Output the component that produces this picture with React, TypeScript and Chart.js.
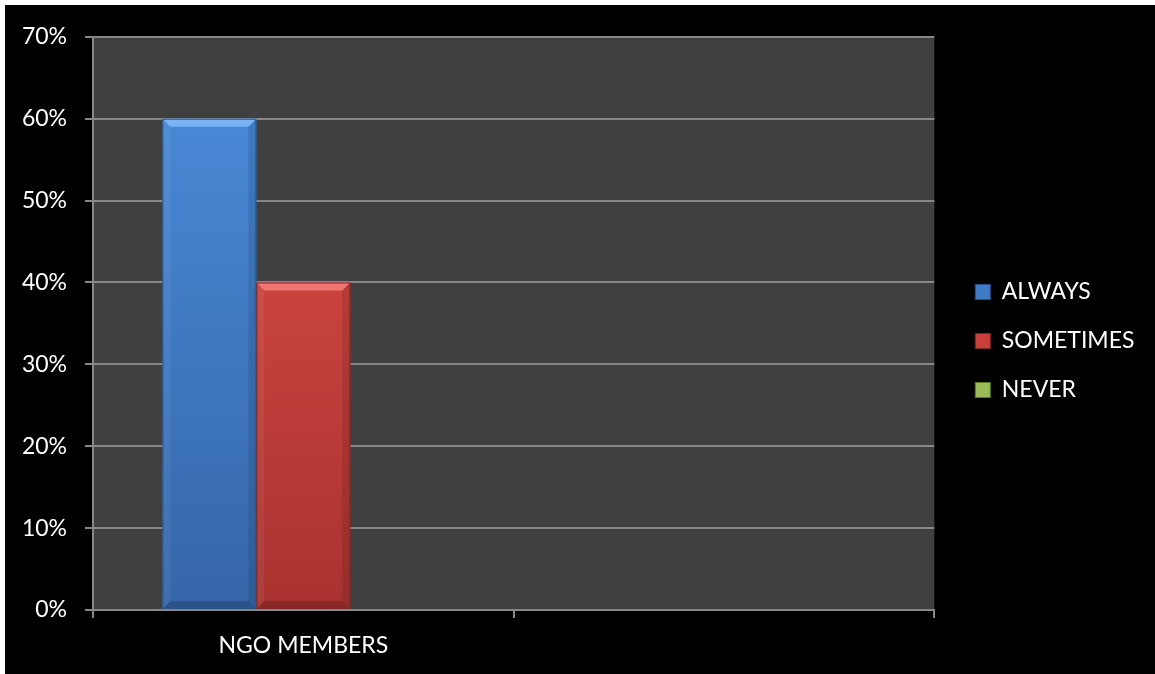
import React, { useEffect, useRef } from "react";
import { Chart, registerables } from "chart.js";

Chart.register(...registerables);

// ---- data ----
const categories: string[] = ["NGO MEMBERS", ""];
const seriesNames: string[] = ["ALWAYS", "SOMETIMES", "NEVER"];
const alwaysValues: (number | null)[] = [60, null];
const sometimesValues: (number | null)[] = [40, null];
const neverValues: (number | null)[] = [0, null];
const yMax = 70;
const yStep = 10;

// ---- styles ----
const seriesTop = ["#4b8ddc", "#e2504b", "#a9c95f"];
const seriesBottom = ["#3566a8", "#a8322f", "#7a9a3c"];
const seriesSolid = ["#4079c4", "#c9403b", "#9bbb59"];
const seriesEdge = ["#2a5286", "#7e2724", "#5d7a2a"];
const seriesHighlight = ["rgba(140,195,255,0.75)", "rgba(255,140,135,0.7)", "rgba(200,230,140,0.7)"];
const FONT = "Lato, 'Open Sans', 'DejaVu Sans', sans-serif";
const FONT_SIZE = 23;
const GRID = "#878787";
const LEGEND_PAD = 26;
const LEGEND_BOX = 15;
const PAD_TOP = 29;

const plotBg = {
  id: "plotBg",
  beforeDraw(chart: any) {
    const { ctx, chartArea } = chart;
    if (!chartArea) return;
    ctx.save();
    ctx.fillStyle = "#404040";
    ctx.fillRect(chartArea.left, chartArea.top, chartArea.right - chartArea.left, chartArea.bottom - chartArea.top);
    ctx.restore();
  },
};

// let the legend use the full canvas height for centring, like the original
const legendSpan = {
  id: "legendSpan",
  afterLayout(chart: any) {
    if (chart.legend) {
      chart.legend.top = 3;
      chart.legend.bottom = chart.height;
      chart.legend.height = chart.legend.bottom - chart.legend.top;
    }
  },
};

const bevel = {
  id: "bevel",
  afterDatasetsDraw(chart: any) {
    const { ctx } = chart;
    chart.data.datasets.forEach((ds: any, i: number) => {
      const meta = chart.getDatasetMeta(i);
      meta.data.forEach((el: any, j: number) => {
        const v = ds.data[j];
        if (v === null || v === undefined || v <= 0) return;
        const { x, y, base, width } = el.getProps(["x", "y", "base", "width"], true);
        const l = x - width / 2;
        const r = x + width / 2;
        const b = 8;
        ctx.save();
        ctx.fillStyle = seriesHighlight[i];
        ctx.beginPath();
        ctx.moveTo(l, y);
        ctx.lineTo(r, y);
        ctx.lineTo(r - b, y + b);
        ctx.lineTo(l + b, y + b);
        ctx.closePath();
        ctx.fill();
        ctx.fillStyle = "rgba(0,0,0,0.18)";
        ctx.beginPath();
        ctx.moveTo(l, base);
        ctx.lineTo(r, base);
        ctx.lineTo(r - b, base - b);
        ctx.lineTo(l + b, base - b);
        ctx.closePath();
        ctx.fill();
        ctx.fillStyle = "rgba(0,0,0,0.10)";
        ctx.beginPath();
        ctx.moveTo(r, y);
        ctx.lineTo(r, base);
        ctx.lineTo(r - b, base - b);
        ctx.lineTo(r - b, y + b);
        ctx.closePath();
        ctx.fill();
        ctx.fillStyle = "rgba(255,255,255,0.06)";
        ctx.beginPath();
        ctx.moveTo(l, y);
        ctx.lineTo(l, base);
        ctx.lineTo(l + b, base - b);
        ctx.lineTo(l + b, y + b);
        ctx.closePath();
        ctx.fill();
        ctx.strokeStyle = seriesEdge[i];
        ctx.lineWidth = 1;
        ctx.strokeRect(l + 0.5, y + 0.5, width - 1, base - y - 1);
        ctx.restore();
      });
    });
  },
};

function gradientFor(i: number) {
  return (c: any) => {
    const chart = c.chart;
    const area = chart.chartArea;
    if (!area) return seriesSolid[i];
    const g = chart.ctx.createLinearGradient(0, area.top, 0, area.bottom);
    g.addColorStop(0, seriesTop[i]);
    g.addColorStop(1, seriesBottom[i]);
    return g;
  };
}

export default function App() {
  const ref = useRef<HTMLCanvasElement | null>(null);

  useEffect(() => {
    if (!ref.current) return;
    const values = [alwaysValues, sometimesValues, neverValues];

    // measure the widest legend label to place the legend like the original
    const mctx = ref.current.getContext("2d") as CanvasRenderingContext2D;
    mctx.font = `${FONT_SIZE}px ${FONT}`;
    const textW = Math.max(...seriesNames.map((n) => mctx.measureText(n).width));
    const legendW = LEGEND_PAD + LEGEND_BOX + FONT_SIZE / 2 + textW + 10;
    const legendLeft = 964 - LEGEND_PAD;
    const padRight = Math.max(0, 1150 - legendLeft - legendW);

    const chart = new Chart(ref.current, {
      type: "bar",
      data: {
        labels: categories,
        datasets: seriesNames.map((name, i) => ({
          label: name,
          data: values[i],
          backgroundColor: gradientFor(i),
          borderWidth: 0,
          categoryPercentage: 0.67,
          barPercentage: 1,
        })),
      },
      options: {
        responsive: false,
        animation: false,
        layout: { padding: { top: PAD_TOP, bottom: 0, left: 0, right: padRight } },
        plugins: {
          tooltip: { enabled: false },
          legend: {
            position: "right",
            align: "center",
            labels: {
              color: "#ffffff",
              font: { family: FONT, size: FONT_SIZE },
              boxWidth: LEGEND_BOX,
              boxHeight: LEGEND_BOX,
              padding: LEGEND_PAD,
              generateLabels: () =>
                seriesNames.map((name, i) => ({
                  text: name,
                  fillStyle: seriesSolid[i],
                  strokeStyle: seriesEdge[i],
                  lineWidth: 1,
                  fontColor: "#ffffff",
                  hidden: false,
                  datasetIndex: i,
                })),
            },
          },
        },
        scales: {
          x: {
            grid: {
              display: true,
              drawOnChartArea: false,
              drawTicks: true,
              tickLength: 8,
              color: GRID,
              lineWidth: 2,
            },
            border: { display: true, color: GRID, width: 2 },
            ticks: {
              color: "#ffffff",
              font: { family: FONT, size: FONT_SIZE },
              padding: 14,
              maxRotation: 0,
            },
            afterFit: (s: any) => {
              s.height = 64;
            },
          },
          y: {
            min: 0,
            max: yMax,
            grid: {
              color: GRID,
              lineWidth: 2,
              tickLength: 8,
              drawTicks: true,
            },
            border: { display: true, color: GRID, width: 2 },
            ticks: {
              stepSize: yStep,
              color: "#ffffff",
              font: { family: FONT, size: FONT_SIZE },
              padding: 18,
              callback: (v: any) => `${v}%`,
            },
            afterFit: (s: any) => {
              s.width = 88;
            },
          },
          gap: {
            type: "linear",
            position: "right",
            display: true,
            grid: { display: false, drawTicks: false },
            border: { display: false },
            ticks: { display: false },
            afterFit: (s: any) => {
              s.width = 15;
            },
          },
        },
      },
      plugins: [plotBg, legendSpan, bevel],
    });
    return () => chart.destroy();
  }, []);

  return (
    <div style={{ position: "absolute", left: 0, top: 0, width: 1155, height: 674, background: "#ffffff" }}>
      <div style={{ position: "absolute", left: 5, top: 5, width: 1150, height: 669, background: "#000000" }}>
        <canvas ref={ref} width={1150} height={669} style={{ display: "block" }} />
      </div>
    </div>
  );
}
